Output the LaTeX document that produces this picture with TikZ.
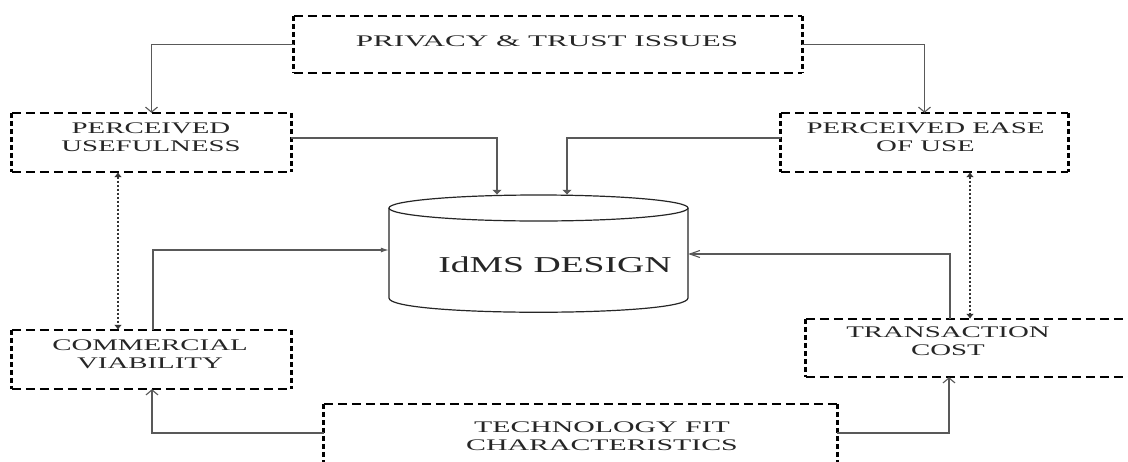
\documentclass[tikz,border=0pt]{standalone}
\usepackage{fontspec}
\setmainfont{Liberation Serif}
\newfontfamily\lblfont[FakeStretch=1.78]{Liberation Serif}
\newfontfamily\prfont[FakeStretch=1.92]{Liberation Serif}
\newfontfamily\tfcfont[FakeStretch=1.84]{Liberation Serif}
\newfontfamily\cylfont[FakeStretch=1.66]{Liberation Serif}
\usetikzlibrary{arrows.meta}
\tikzset{
  boxnode/.style={rectangle, inner sep=0pt},
  lbl/.style={font=\lblfont\fontsize{16.2}{18.4}\selectfont, align=center, inner sep=0pt, text=black!85},
  hdash/.style={line width=2pt, dash pattern=on 9pt off 5pt, black},
  vdash/.style={line width=2.8pt, dash pattern=on 5pt off 3pt, black},
  conn/.style={line width=1.1pt, black!65},
  farrowv/.style={conn, -{Latex[length=5pt,width=10pt]}},
  farrowh/.style={conn, -{Latex[length=8pt,width=5pt]}},
  oarrowv/.style={conn, -{Straight Barb[length=5pt,width=12pt]}},
  oarrowh/.style={conn, -{Straight Barb[length=10pt,width=7pt]}},
  dotarrow/.style={line width=1.2pt, black!80, dash pattern=on 2pt off 2pt, {Latex[length=5pt,width=8pt]}-{Latex[length=5pt,width=8pt]}},
}
\newcommand\dbox[1]{%
  \draw[hdash] (#1.north west) -- (#1.north east) (#1.south west) -- (#1.south east);
  \draw[vdash] (#1.north west) -- (#1.south west) (#1.north east) -- (#1.south east);}
\begin{document}
\begin{tikzpicture}[x=1pt, y=-1pt]
\useasboundingbox (0,0) rectangle (1128,461);
\clip (0,0) rectangle (1128,461);
\fill[white] (0,0) rectangle (1128,461);

% boxes
\node[boxnode, minimum width=508pt, minimum height=57pt] (pr) at (548,44.5) {};
\node[boxnode, minimum width=279pt, minimum height=59pt] (pu) at (151.5,142.5) {};
\node[boxnode, minimum width=287pt, minimum height=59pt] (peou) at (924.5,142.5) {};
\node[boxnode, minimum width=279pt, minimum height=59pt] (cv) at (151.5,359.5) {};
\node[boxnode, minimum width=344pt, minimum height=58pt] (tc) at (978,348) {};
\node[boxnode, minimum width=513pt, minimum height=76pt] (tfc) at (580.5,442) {};
\dbox{pr}\dbox{pu}\dbox{peou}\dbox{cv}\dbox{tc}\dbox{tfc}

% labels
\node[lbl, font=\prfont\fontsize{16.2}{18.4}\selectfont] (prt) at (547,41.5) {PRIVACY \& TRUST ISSUES};
\node[lbl] (put) at (151,137) {PERCEIVED\\USEFULNESS};
\node[lbl] (peout) at (925.5,137) {PERCEIVED EASE\\OF USE};
\node[lbl] (cvt) at (150,354.5) {COMMERCIAL\\VIABILITY};
\node[lbl] (tct) at (948,341) {TRANSACTION\\COST};
\node[lbl, font=\tfcfont\fontsize{16.2}{18.4}\selectfont] (tfct) at (602,436.5) {TECHNOLOGY FIT\\CHARACTERISTICS};

% cylinder
\node[boxnode, minimum width=299pt, minimum height=117pt] (cyl) at (538.5,253.5) {};
\draw[line width=1.2pt, black!85, fill=white] (389,208) -- (389,298) .. controls (389,317) and (688,317) .. (688,298) -- (688,208);
\draw[line width=1.2pt, black!85] (538.5,208) ellipse [x radius=149.5pt, y radius=13pt];
\node[font=\cylfont\fontsize{22.7}{26}\selectfont, inner sep=0pt, text=black!85] (cylt) at (555,264.5) {IdMS DESIGN};

% helper coordinates
\coordinate (c1) at (497,138);
\coordinate (c2) at (567,138);
\coordinate (c3) at (153,250);
\coordinate (c4) at (950,254);
\coordinate (c5) at (152,433);
\coordinate (c6) at (949,433);
\coordinate (c7) at (118,300);
\coordinate (c8) at (970,300);

% connectors
\draw[oarrowv] (pr.west) -| (pu.north);
\draw[oarrowv] (pr.east) -| (peou.north);
\draw[farrowv] (pu.east |- c1) -| (c1 |- cyl.north);
\draw[farrowv] (peou.west |- c2) -| (c2 |- cyl.north);
\draw[farrowh] (c3 |- cv.north) |- (cyl.west |- c3);
\draw[oarrowh] (c4 |- tc.north) |- (cyl.east |- c4);
\draw[oarrowv] (tfc.west |- c5) -| (c5 |- cv.south);
\draw[oarrowv] (tfc.east |- c6) -| (c6 |- tc.south);
\draw[dotarrow] (c7 |- pu.south) -- (c7 |- cv.north);
\draw[dotarrow] (c8 |- peou.south) -- (c8 |- tc.north);
\end{tikzpicture}
\end{document}
